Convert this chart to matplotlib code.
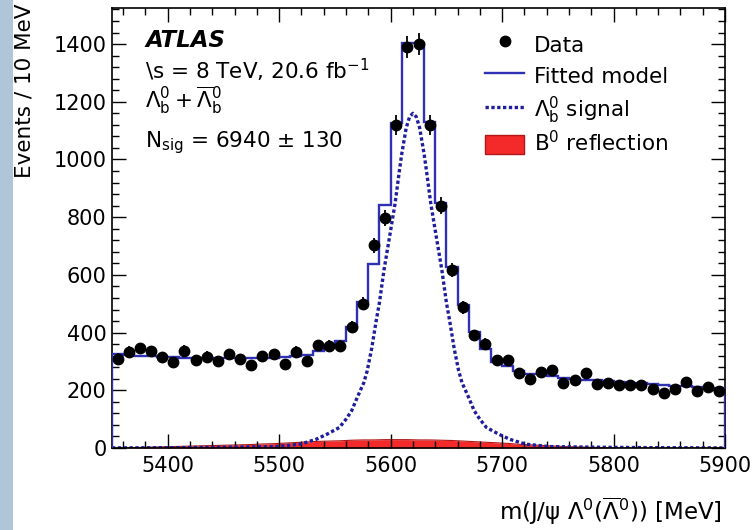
import numpy as np
import matplotlib.pyplot as plt
from matplotlib.patches import Rectangle
from matplotlib.lines import Line2D
from matplotlib.legend_handler import HandlerPatch

plt.rcParams['font.family'] = ['DejaVu Sans']
plt.rcParams['mathtext.fontset'] = 'dejavusans'

# 10 MeV bins from 5350 to 5900
bin_edges = np.arange(5350, 5901, 10)
bin_centers = bin_edges[:-1] + 5

data_counts = [310, 334, 347, 335, 314, 299, 337, 305, 317, 303,
               326, 308, 289, 320, 326, 291, 334, 303, 357, 355,
               355, 421, 500, 703, 797, 1120, 1390, 1400, 1120, 840,
               616, 488, 390, 361, 306, 306, 259, 239, 264, 271,
               225, 236, 259, 221, 225, 219, 219, 219, 204, 190,
               204, 230, 198, 213, 198]

model_counts = [326, 323, 320, 318, 316, 314, 313, 312, 311, 311,
                311, 311, 311, 312, 313, 315, 318, 323, 335, 349,
                372, 418, 505, 636, 842, 1126, 1404, 1404, 1130, 849,
                627, 497, 401, 343, 297, 285, 268, 258, 255, 248,
                243, 240, 237, 234, 232, 229, 226, 224, 221, 219,
                216, 214, 211, 209, 207]

reflection_counts = [0, 1, 2, 3, 4, 5, 6, 7, 8, 9,
                     10, 11, 12, 14, 15, 17, 19, 21, 23, 24,
                     25, 27, 28, 28, 29, 29, 29, 28, 28, 27,
                     26, 24, 22, 20, 18, 16, 13, 11, 9, 7,
                     5, 4, 3, 2, 1, 0, 0, 0, 0, 0,
                     0, 0, 0, 0, 0]

# signal curve points
signal_mass = [5350, 5400, 5450, 5480, 5498, 5518, 5523, 5533, 5543, 5554,
               5560, 5565, 5570, 5576, 5579, 5583, 5587, 5590, 5594, 5599,
               5604, 5608, 5610, 5614, 5617, 5620, 5623, 5626, 5630, 5632,
               5636, 5641, 5646, 5650, 5653, 5657, 5661, 5664, 5670, 5675,
               5680, 5686, 5697, 5707, 5717, 5722, 5742, 5760, 5790, 5840, 5900]
signal_vals = [0.3, 1, 2.5, 4, 5, 13, 18, 30, 48, 71,
               100, 129, 175, 227, 268, 345, 440, 505, 616, 731,
               848, 965, 1020, 1110, 1148, 1160, 1148, 1110, 1020, 965,
               848, 731, 616, 505, 440, 345, 268, 227, 175, 129,
               100, 71, 48, 30, 18, 13, 5, 4, 2.5, 1, 0.3]

line_blue = '#3030b2'
dot_blue = '#1e1e9e'
red = '#f42a2a'
fs = 15.5

fig = plt.figure(figsize=(7.55, 5.3), dpi=100)
fig.patch.set_facecolor('white')
# slide background strip on the left
fig.patches.append(Rectangle((0, 0), 13 / 755, 1, transform=fig.transFigure,
                             facecolor='#aec6d8', edgecolor='none', zorder=0))

ax = fig.add_axes([112 / 755, 1 - 448 / 530, 613 / 755, 440 / 530])

ax.fill_between(bin_centers, reflection_counts, 0, color=red, lw=0, zorder=1)
ax.plot(bin_centers, reflection_counts, color='#b01818', lw=0.8, zorder=1)
ax.plot(signal_mass, signal_vals, color=dot_blue, lw=2.4, ls=(0, (1, 0.75)), zorder=2)
ax.stairs(model_counts, bin_edges, color=line_blue, lw=1.7, zorder=3)
ax.errorbar(bin_centers, data_counts, yerr=np.sqrt(data_counts), fmt='o',
            color='black', ms=7.5, elinewidth=1.3, capsize=0, zorder=4)

ax.set_xlim(5350, 5900)
ax.set_ylim(0, 1525)
ax.set_xticks([5400, 5500, 5600, 5700, 5800, 5900])
ax.set_xticks(np.arange(5360, 5900, 20), minor=True)
ax.set_yticks(np.arange(0, 1401, 200))
ax.set_yticks(np.arange(0, 1521, 40), minor=True)
ax.tick_params(which='both', direction='in', top=True, right=True, labelsize=15, width=1.0)
ax.tick_params(which='major', length=10)
ax.tick_params(which='minor', length=5)
ax.tick_params(axis='y', pad=4)
ax.tick_params(axis='x', pad=6)
for s in ax.spines.values():
    s.set_linewidth(1.2)

fig.text(25 / 755, 1 - 3 / 530, 'Events / 10 MeV', rotation=90, ha='center', va='top', fontsize=fs)
fig.text(722 / 755, 1 - 520 / 530, r'm(J/ψ $\Lambda^0(\overline{\Lambda}^0)$) [MeV]',
         ha='right', va='baseline', fontsize=16.5)

tx = 0.054
ax.text(tx, 0.911, 'ATLAS', transform=ax.transAxes, fontsize=16.5, fontweight='bold',
        fontstyle='italic', va='baseline')
ax.text(tx, 0.838, r'\s = 8 TeV, 20.6 fb$^{-1}$', transform=ax.transAxes, fontsize=fs, va='baseline')
ax.text(tx, 0.772, r'$\Lambda_\mathrm{b}^0 + \overline{\Lambda}_\mathrm{b}^0$', transform=ax.transAxes,
        fontsize=fs, va='baseline')
ax.text(tx, 0.683, r'N$_{\mathrm{sig}}$ = 6940 $\pm$ 130', transform=ax.transAxes, fontsize=fs, va='baseline')


def small_box(legend, orig_handle, xdescent, ydescent, width, height, fontsize):
    h = height * 0.68
    return Rectangle((-xdescent, -ydescent + (height - h) / 2), width, h)


handles = [
    Line2D([], [], marker='o', ls='none', color='black', ms=7.5),
    Line2D([], [], color=line_blue, lw=1.7),
    Line2D([], [], color=dot_blue, lw=2.4, ls=(0, (1, 0.75))),
    Rectangle((0, 0), 1, 1, facecolor=red, edgecolor='#b01818', lw=1),
]
labels = ['Data', 'Fitted model', r'$\Lambda_\mathrm{b}^0$ signal', r'B$^0$ reflection']
ax.legend(handles, labels, loc='upper left', bbox_to_anchor=(0.595, 0.967), frameon=False,
          fontsize=fs, handlelength=1.8, handleheight=1.55, handletextpad=0.45,
          labelspacing=0.22, borderaxespad=0,
          handler_map={Rectangle: HandlerPatch(patch_func=small_box)})

fig.savefig('out.png', dpi=100)
